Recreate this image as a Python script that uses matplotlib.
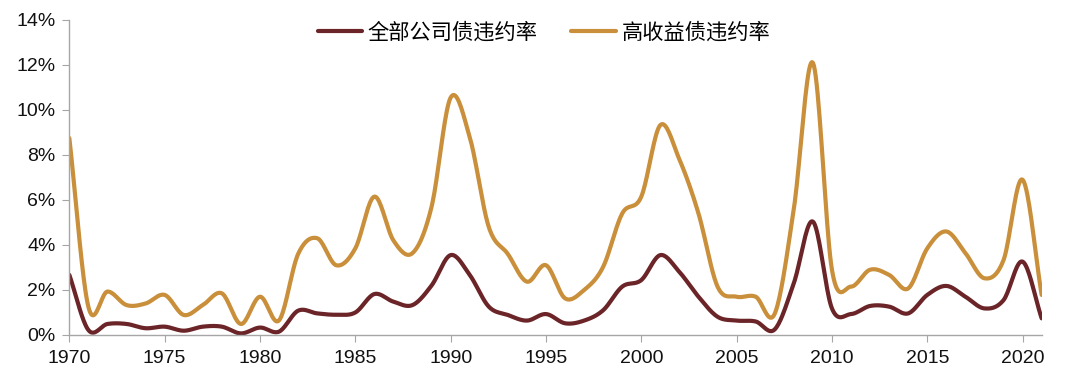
import numpy as np
import matplotlib
matplotlib.use("Agg")
import matplotlib.pyplot as plt

plt.rcParams['font.family'] = ['Liberation Sans', 'Noto Sans CJK SC']

years = list(range(1970, 2022))

# 全部公司债违约率 (%)
all_corp = [2.67, 0.22, 0.49, 0.49, 0.30, 0.37, 0.19, 0.37, 0.37, 0.07,
            0.33, 0.15, 1.08, 0.96, 0.90, 1.00, 1.82, 1.48, 1.33, 2.20,
            3.55, 2.67, 1.26, 0.89, 0.64, 0.93, 0.52, 0.64, 1.10, 2.15,
            2.44, 3.55, 2.80, 1.70, 0.81, 0.64, 0.60, 0.25, 2.30, 5.04,
            1.18, 0.93, 1.29, 1.26, 0.96, 1.78, 2.18, 1.70, 1.18, 1.55,
            3.26, 0.74]

# 高收益债违约率 (%)
high_yield = [8.75, 1.25, 1.93, 1.33, 1.40, 1.78, 0.89, 1.33, 1.85, 0.49,
              1.70, 0.65, 3.60, 4.30, 3.10, 3.85, 6.15, 4.20, 3.64, 5.70,
              10.55, 8.80, 4.80, 3.60, 2.37, 3.10, 1.63, 2.00, 3.03, 5.40,
              6.15, 9.33, 7.80, 5.40, 2.15, 1.70, 1.70, 0.95, 5.60, 12.10,
              2.90, 2.15, 2.90, 2.67, 2.07, 3.85, 4.60, 3.64, 2.52, 3.33,
              6.90, 1.78]

labels = ['全部公司债违约率', '高收益债违约率']
colors = ['#6B2427', '#C98F3A']


def smooth(x, y, n=20):
    # catmull-rom curve through the points, like excel's smoothed line
    x = np.asarray(x, float)
    y = np.asarray(y, float)
    px = np.concatenate([[2 * x[0] - x[1]], x, [2 * x[-1] - x[-2]]])
    py = np.concatenate([[2 * y[0] - y[1]], y, [2 * y[-1] - y[-2]]])
    t = np.linspace(0, 1, n, endpoint=False)
    xs, ys = [], []
    for i in range(1, len(px) - 2):
        for p, out in ((px, xs), (py, ys)):
            p0, p1, p2, p3 = p[i - 1], p[i], p[i + 1], p[i + 2]
            out.extend(0.5 * (2 * p1 + (-p0 + p2) * t
                              + (2 * p0 - 5 * p1 + 4 * p2 - p3) * t ** 2
                              + (-p0 + 3 * p1 - 3 * p2 + p3) * t ** 3))
    xs.append(x[-1])
    ys.append(y[-1])
    return np.array(xs), np.array(ys)


fig = plt.figure(figsize=(10.8, 3.78), dpi=100)
ax = fig.add_axes([0.0642, 0.1138, 0.9003, 0.8333])

for series, lab, col in zip([all_corp, high_yield], labels, colors):
    sx, sy = smooth(years, series)
    ax.plot(sx, sy, color=col, lw=3.0, label=lab, solid_capstyle='round')

ax.set_xlim(1970, 2021)
ax.set_ylim(0, 14)
ax.set_xticks(range(1970, 2021, 5))
ax.set_yticks(range(0, 15, 2))
ax.set_yticklabels([f'{v}%' for v in range(0, 15, 2)])

for side in ['top', 'right']:
    ax.spines[side].set_visible(False)
for side in ['left', 'bottom']:
    ax.spines[side].set_color('#A6A6A6')
    ax.spines[side].set_linewidth(1.0)
ax.tick_params(axis='both', direction='out', color='#A6A6A6', length=5,
               labelsize=14, labelcolor='#111111')
ax.tick_params(axis='y', pad=5)
ax.tick_params(axis='x', pad=6)

leg = ax.legend(loc='upper center', bbox_to_anchor=(0.488, 1.055), ncol=2,
                frameon=False, handlelength=2.1, handletextpad=0.25,
                columnspacing=1.6, prop={'family': 'Noto Sans CJK SC', 'size': 15.3})

fig.savefig('out.png', dpi=100)
